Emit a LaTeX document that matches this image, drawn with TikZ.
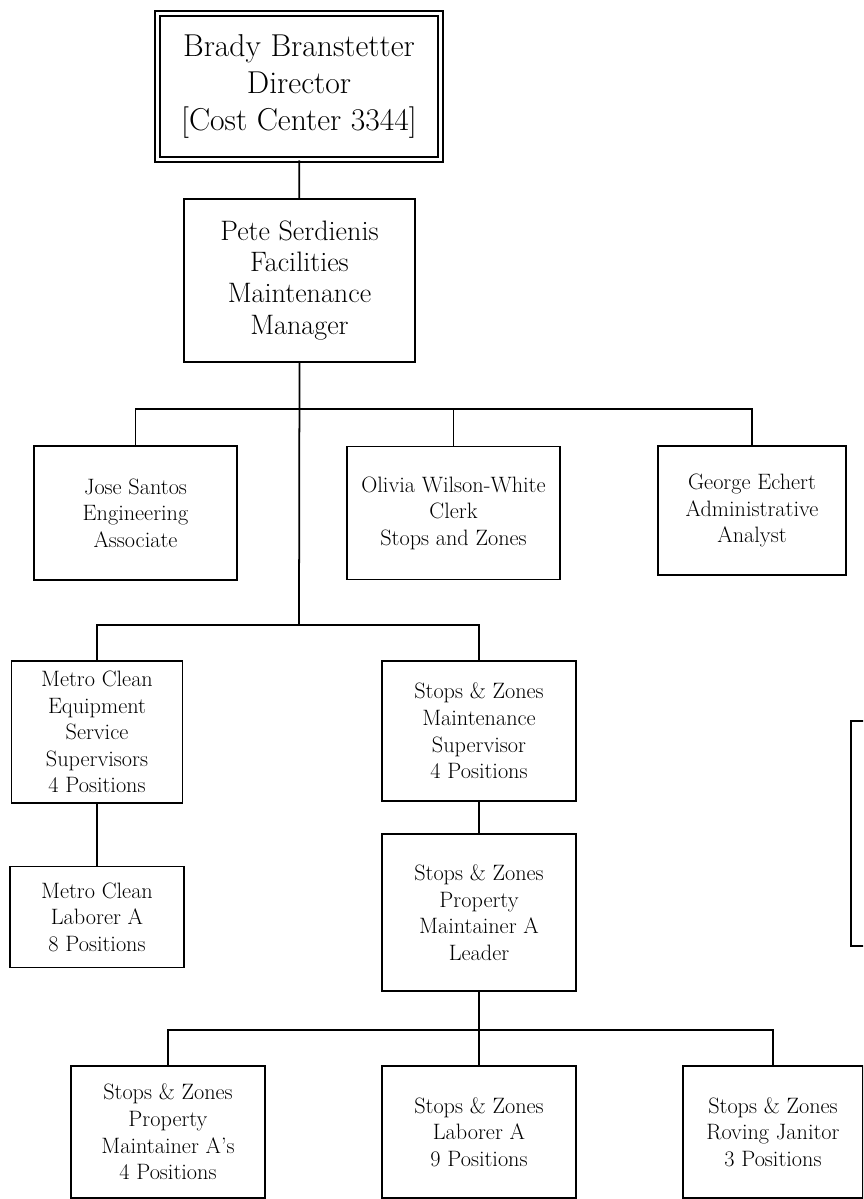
\documentclass[tikz,border=0pt]{standalone}
\usepackage{tikz}
\usetikzlibrary{positioning, calc}

\begin{document}
\begin{tikzpicture}[x=0.03cm, y=-0.03cm,
            puesto/.style={rectangle, draw, line width=1.5pt, inner sep=2pt, align=center,
                           font=\fontsize{19pt}{22.7pt}\selectfont},
            director/.style={rectangle, draw, double, line width=1.6pt, double distance=2.6pt,
                             align=center, minimum width=8.49cm, minimum height=4.38cm,
                             font=\fontsize{27pt}{31.6pt}\selectfont},
            gerente/.style={puesto, minimum width=6.93cm, minimum height=4.89cm,
                            font=\fontsize{24pt}{26.5pt}\selectfont},
            linea/.style={line width=1.5pt}
        ]
            \useasboundingbox (0,0) rectangle (863,1199);
            \clip (0,0) rectangle (863,1199);

            % Director
            \node[director] (brady) at (299, 86.5) {Brady Branstetter\\Director\\{[Cost Center 3344]}};

            % Gerente
            \node[gerente] (pete) at (299.5, 280.5) {Pete Serdienis\\Facilities\\Maintenance\\Manager};

            % Staff
            \node[puesto, minimum width=6.09cm, minimum height=4.02cm] (jose) at (135.5, 513) {Jose Santos\\Engineering\\Associate};
            \node[puesto, minimum width=6.39cm, minimum height=3.99cm] (olivia) at (453.5, 513) {Olivia Wilson-White\\Clerk\\Stops and Zones};
            \node[puesto, minimum width=5.64cm, minimum height=3.87cm] (george) at (752, 510.5) {George Echert\\Administrative\\Analyst};

            % Supervisores
            \node[puesto, minimum width=5.13cm, minimum height=4.26cm] (mc_sup) at (97, 732) {Metro Clean\\Equipment\\Service\\Supervisors\\4 Positions};
            \node[puesto, minimum width=5.82cm, minimum height=4.2cm] (sz_sup) at (479, 731) {Stops \& Zones\\Maintenance\\Supervisor\\4 Positions};

            % Metro Clean
            \node[puesto, minimum width=5.22cm, minimum height=3.03cm] (mc_lab) at (97, 917) {Metro Clean\\Laborer A\\8 Positions};

            % Lider
            \node[puesto, minimum width=5.82cm, minimum height=4.71cm] (sz_lider) at (479, 912.5) {Stops \& Zones\\Property\\Maintainer A\\Leader};

            % Fila de abajo
            \node[puesto, minimum width=5.82cm, minimum height=3.96cm] (sz_prop) at (168, 1132) {Stops \& Zones\\Property\\Maintainer A's\\4 Positions};
            \node[puesto, minimum width=5.82cm, minimum height=3.96cm] (sz_lab) at (479, 1132) {Stops \& Zones\\Laborer A\\9 Positions};
            \node[puesto, minimum width=5.4cm, minimum height=3.96cm] (sz_jan) at (773, 1132) {Stops \& Zones\\Roving Janitor\\3 Positions};

            % Caja cortada (borde derecho)
            \node[puesto, minimum width=1.47cm, minimum height=6.75cm] (cortada) at (875.5, 833.5) {};

            % Barras
            \coordinate (barra1) at (299, 409);
            \coordinate (barra2) at (299, 625);
            \coordinate (barra3) at (479, 1030);

            % Lineas
            \draw[linea] (brady) -- (pete);
            \draw[linea] (pete.south) -- (barra2);
            \draw[linea] (jose.north) |- (barra1) -| (george.north);
            \draw[linea] (olivia.north) -- (olivia.north |- barra1);
            \draw[linea] (mc_sup.north) |- (barra2) -| (sz_sup.north);
            \draw[linea] (mc_sup) -- (mc_lab);
            \draw[linea] (sz_sup) -- (sz_lider);
            \draw[linea] (sz_lider) -- (sz_lab);
            \draw[linea] (sz_prop.north) |- (barra3) -| (sz_jan.north);

        \end{tikzpicture}
\end{document}
